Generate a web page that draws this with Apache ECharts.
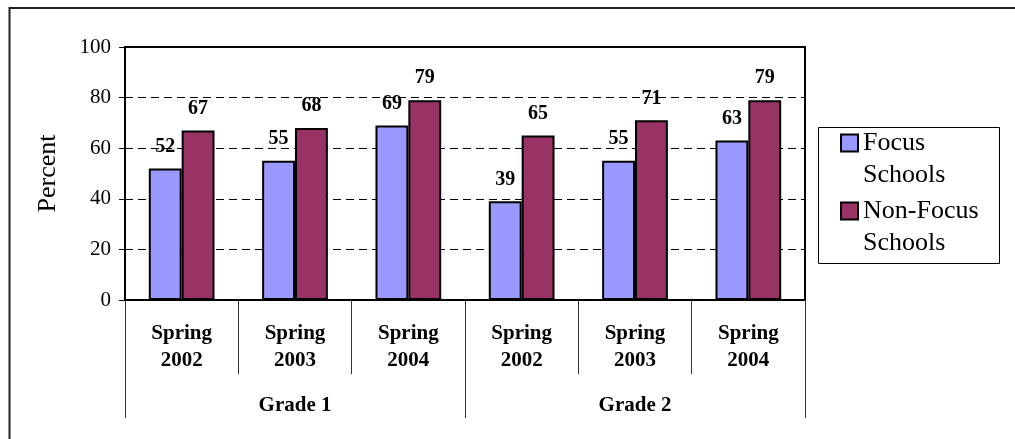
<!DOCTYPE html>
<html>
<head>
<meta charset="utf-8">
<script src="https://cdn.jsdelivr.net/npm/echarts@6/dist/echarts.min.js"></script>
<style>
  html, body { margin: 0; padding: 0; background: #fff; }
  #chart { width: 1015px; height: 439px; }
</style>
</head>
<body>
<div id="chart"></div>
<script>
// Survey periods (inner axis level) and grade groups (outer axis level)
const periods = ['Spring\n2002', 'Spring\n2003', 'Spring\n2004', 'Spring\n2002', 'Spring\n2003', 'Spring\n2004'];
const grades = ['Grade 1', 'Grade 2'];

// Percent of students, per period
const focusSchools = [52, 55, 69, 39, 55, 63];
const nonFocusSchools = [67, 68, 79, 65, 71, 79];

const seriesNames = ['Focus Schools', 'Non-Focus Schools'];

const serif = 'Liberation Serif';

const valueLabel = {
  show: true,
  position: 'top',
  distance: 12,
  fontFamily: serif,
  fontSize: 20,
  fontWeight: 'bold',
  color: '#000'
};

// Legend entry: icon sits beside the first line of a two-line name
function legendFor(name, top) {
  return {
    data: [name],
    orient: 'vertical',
    left: 840,
    top: top,
    padding: 0,
    itemWidth: 17,
    itemHeight: 17,
    icon: 'rect',
    selectedMode: false,
    formatter: n => '{p| }\n{t|' + n.split(' ').join('}\n{t|') + '}',
    textStyle: {
      rich: {
        p: { fontFamily: serif, fontSize: 26, lineHeight: 32, color: '#000' },
        t: { fontFamily: serif, fontSize: 26, lineHeight: 32, color: '#000' }
      }
    }
  };
}

const chart = echarts.init(document.getElementById('chart'), null, { renderer: 'canvas' });

chart.setOption({
  animation: false,
  backgroundColor: '#fff',
  grid: {
    left: 125, right: 210, top: 47, bottom: 139,
    show: true, borderColor: '#000', borderWidth: 2, backgroundColor: 'transparent'
  },
  legend: [legendFor(seriesNames[0], 98), legendFor(seriesNames[1], 166)],
  graphic: [
    {
      type: 'polyline',
      shape: { points: [[9.5, 439], [9.5, 8], [1015, 8]] },
      style: { stroke: '#222', lineWidth: 2, fill: null }
    },
    {
      type: 'rect',
      shape: { x: 818.5, y: 127.5, width: 181, height: 136 },
      style: { fill: null, stroke: '#000', lineWidth: 1 }
    }
  ],
  xAxis: [
    {
      type: 'category',
      data: periods,
      position: 'bottom',
      axisLine: { show: true, lineStyle: { color: '#000', width: 2 } },
      axisTick: { show: true, interval: 0, length: 74, lineStyle: { color: '#333', width: 1 } },
      axisLabel: {
        interval: 0, margin: 20,
        fontFamily: serif, fontSize: 21, fontWeight: 'bold', lineHeight: 27, color: '#000'
      }
    },
    {
      type: 'category',
      data: grades,
      position: 'bottom',
      axisLine: { show: false },
      axisTick: { show: true, interval: 0, length: 118, lineStyle: { color: '#333', width: 1 } },
      axisLabel: {
        interval: 0, margin: 93,
        fontFamily: serif, fontSize: 21, fontWeight: 'bold', lineHeight: 26, color: '#000'
      }
    }
  ],
  yAxis: {
    type: 'value',
    min: 0, max: 100, interval: 20,
    name: 'Percent',
    nameLocation: 'middle',
    nameGap: 64,
    nameTextStyle: { fontFamily: serif, fontSize: 26, color: '#000' },
    axisLine: { show: true, lineStyle: { color: '#000', width: 2 } },
    axisTick: { show: true, length: 6, lineStyle: { color: '#000', width: 1 } },
    axisLabel: { fontFamily: serif, fontSize: 21, color: '#000', margin: 14 },
    splitLine: { show: true, lineStyle: { color: '#000', width: 1, type: [8, 5] } }
  },
  series: [
    {
      type: 'bar',
      name: seriesNames[0],
      xAxisIndex: 0,
      data: focusSchools,
      barGap: '0%',
      barCategoryGap: '42%',
      itemStyle: { color: '#9999FF', borderColor: '#000', borderWidth: 2 },
      label: valueLabel
    },
    {
      type: 'bar',
      name: seriesNames[1],
      xAxisIndex: 0,
      data: nonFocusSchools,
      barGap: '0%',
      barCategoryGap: '42%',
      itemStyle: { color: '#993366', borderColor: '#000', borderWidth: 2 },
      label: valueLabel
    }
  ]
});
</script>
</body>
</html>
